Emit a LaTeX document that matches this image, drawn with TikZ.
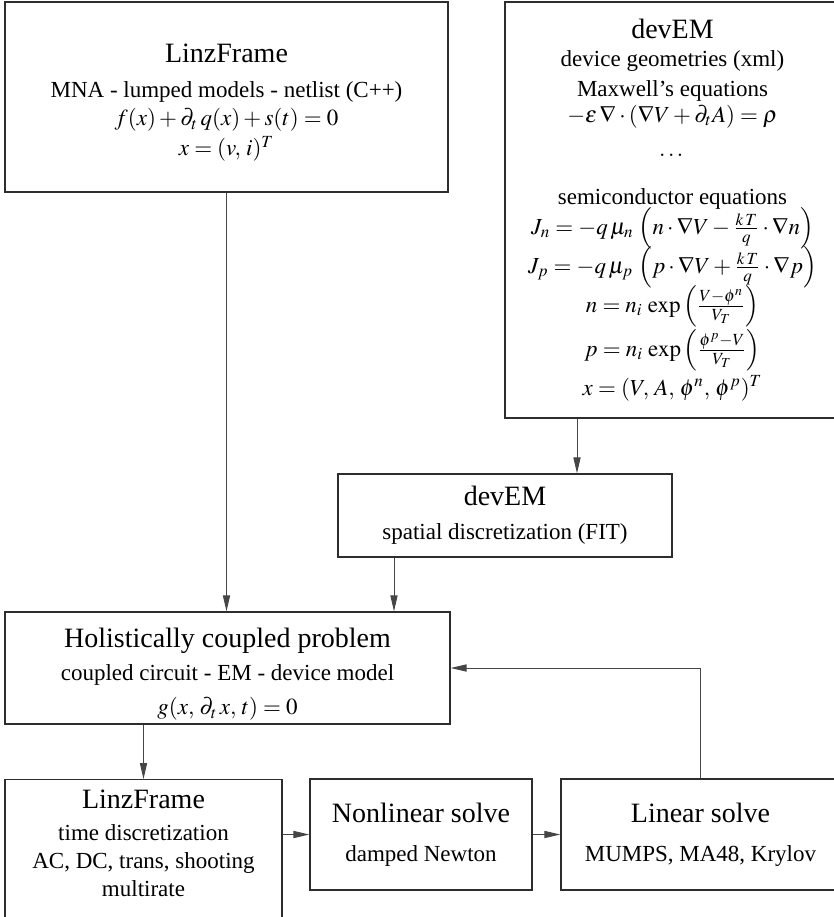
\documentclass[tikz,border=0pt]{standalone}
\usepackage{amsmath}
\usepackage{mathptmx}
\usepackage{fontspec}
\setmainfont{Liberation Serif}
\usetikzlibrary{arrows.meta,positioning,calc}
\definecolor{mydark}{RGB}{45,45,45}
\definecolor{mygray}{RGB}{70,70,70}
\newcommand{\boxfont}{\fontsize{11.5}{0}\selectfont\lineskiplimit=-\maxdimen}
\newcommand{\boxtitle}{\fontsize{14}{0}\selectfont}

\begin{document}
\begin{tikzpicture}[x=0.5pt,y=-0.5pt,
  blk/.style={draw=mydark,line width=0.7pt,align=center,inner sep=0pt,
    font=\boxfont,text=black},
  arr/.style={-{Triangle[length=8pt,width=3.6pt]},mygray,line width=0.5pt}]
  \useasboundingbox (0,0) rectangle (834,917);
  \clip (0,0) rectangle (834,917);

  % top row
  \node[blk,minimum width=221.5pt,minimum height=95pt] (linzTop) at (226.5,97)
    {\mbox{}\\[15pt]
     {\boxtitle LinzFrame}\\[17.5pt]
     MNA - lumped models - netlist (C++)\\[14pt]
     $f(x) + \partial_t\, q(x) + s(t) = 0$\\[15pt]
     $x = (v,\, i)^T$};
  \node[blk,minimum width=167.5pt,minimum height=208pt] (devTop) at (672.5,210)
    {{\boxtitle devEM}\\[14pt]
     device geometries (xml)\\[15pt]
     Maxwell's equations\\[13pt]
     $-\epsilon\,\nabla\cdot(\nabla V + \partial_t A) = \rho$\\[17pt]
     $\dots$\\[24pt]
     semiconductor equations\\[15pt]
     $J_n = -q\,\mu_n\,\left(n\cdot\nabla V - \frac{k\,T}{q}\cdot\nabla n\right)$\\[19.5pt]
     $J_p = -q\,\mu_p\,\left(p\cdot\nabla V + \frac{k\,T}{q}\cdot\nabla p\right)$\\[19.5pt]
     $n = n_i\,\exp\left(\frac{V-\phi^n}{V_T}\right)$\\[22pt]
     $p = n_i\,\exp\left(\frac{\phi^p-V}{V_T}\right)$\\[19.5pt]
     $x = (V,\, A,\, \phi^n,\, \phi^p)^T$};

  % middle
  \node[blk,minimum width=167pt,minimum height=41.5pt] (devFit) at (505,515.5)
    {{\boxtitle devEM}\\[17pt] spatial discretization (FIT)};
  \node[blk,minimum width=222.5pt,minimum height=56pt] (holistic) at (227.5,668)
    {\mbox{}\\[16pt]
     {\boxtitle Holistically coupled problem}\\[16.5pt]
     coupled circuit - EM - device model\\[17pt]
     $g(x,\, \partial_t\, x,\, t) = 0$};

  % bottom row
  \node[blk,minimum width=138.5pt,inner ysep=5pt,anchor=north] (linzBot) at (143.5,779)
    {{\boxtitle LinzFrame}\\[16pt]
     time discretization\\[14pt]
     AC, DC, trans, shooting\\[14pt]
     multirate\\[40pt]\mbox{}};
  \node[blk,minimum width=111pt,minimum height=55.5pt] (nonlin) at (421,834.5)
    {{\boxtitle Nonlinear solve}\\[19.5pt] damped Newton};
  \node[blk,minimum width=139.5pt,minimum height=55.5pt] (linSolve) at (700.5,834.5)
    {{\boxtitle Linear solve}\\[19.5pt] MUMPS, MA48, Krylov};

  % connectors
  \draw[arr] (linzTop.south) -- (linzTop.south |- holistic.north);
  \draw[arr] ([xshift=-47.75pt]devTop.south) -- ([xshift=-47.75pt]devTop.south |- devFit.north);
  \draw[arr] ([xshift=-55.5pt]devFit.south) -- ([xshift=-55.5pt]devFit.south |- holistic.north);
  \draw[arr] (holistic.south -| linzBot.north) -- (linzBot.north);
  \draw[arr] (linzBot.east |- nonlin.west) -- (nonlin.west);
  \draw[arr] (nonlin.east) -- (linSolve.west);
  \draw[arr] (linSolve.north) |- (holistic.east);
\end{tikzpicture}
\end{document}
